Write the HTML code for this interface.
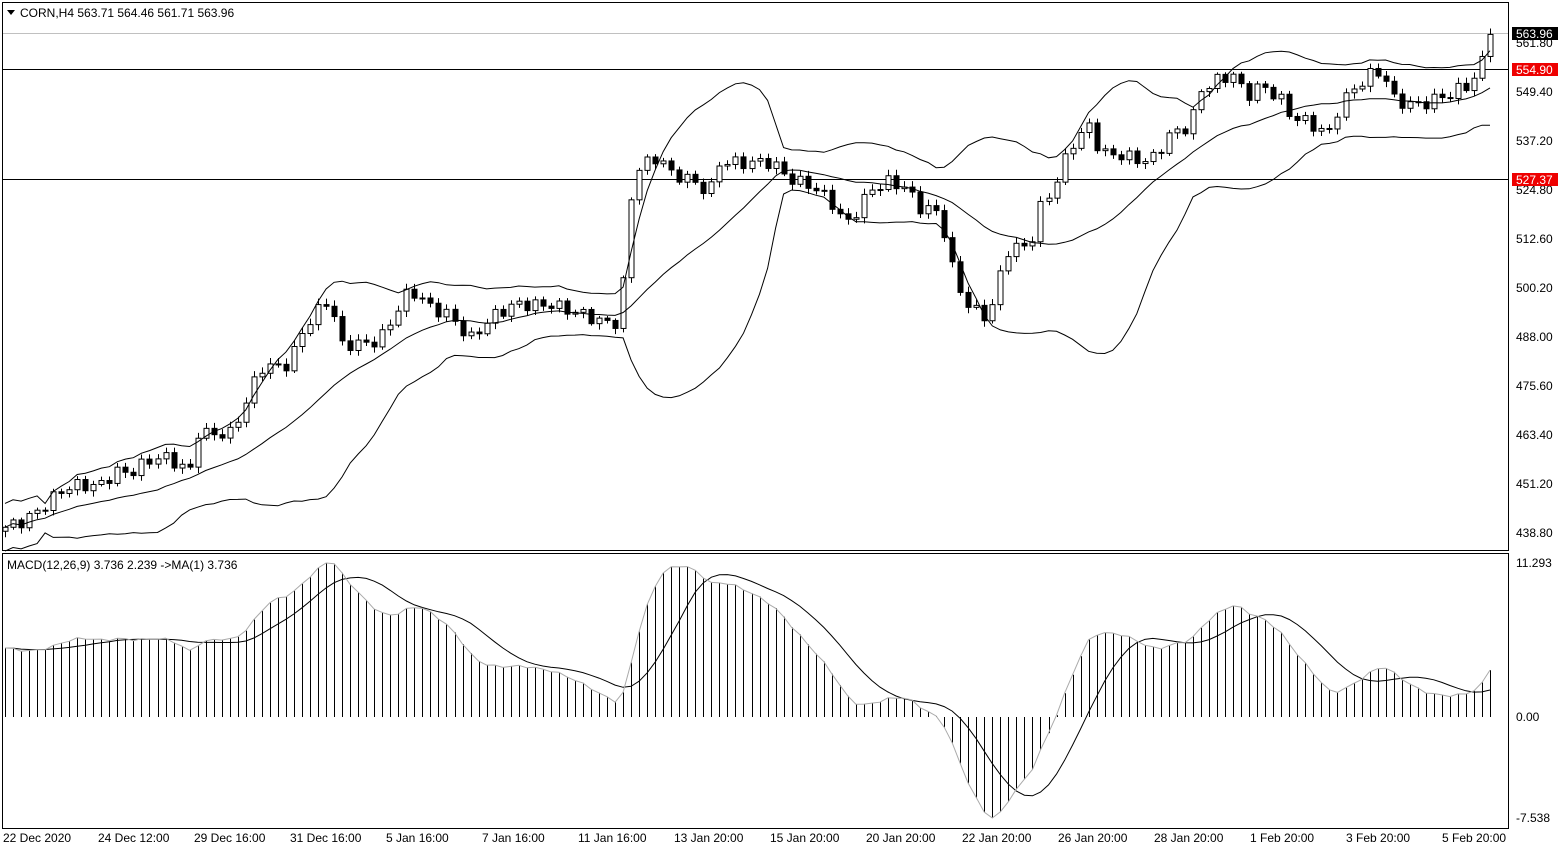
<!DOCTYPE html>
<html><head><meta charset="utf-8"><style>
html,body{margin:0;padding:0;background:#fff;}
body{width:1566px;height:850px;overflow:hidden;position:relative;font-family:"Liberation Sans",sans-serif;}
svg text{font-family:"Liberation Sans",sans-serif;font-size:12px;fill:#000;}
</style></head><body>
<svg id="s" width="1566" height="850" xmlns="http://www.w3.org/2000/svg">
<rect x="2.5" y="2.5" width="1506" height="548" fill="none" stroke="#000"/>
<rect x="2.5" y="553.5" width="1506" height="275" fill="none" stroke="#000"/>
<line x1="3" y1="33.5" x2="1508" y2="33.5" stroke="#c0c0c0"/>
<line x1="3" y1="69.5" x2="1508" y2="69.5" stroke="#000"/>
<line x1="3" y1="179.5" x2="1508" y2="179.5" stroke="#000"/>
<g id="g"></g>
<path d="M7 10 L15 10 L11 15 Z" fill="#000"/>
<text x="20" y="17">CORN,H4  563.71  564.46  561.71  563.96</text>
<text x="7" y="569">MACD(12,26,9) 3.736 2.239  -&gt;MA(1) 3.736</text>
<g>
<text x="1516" y="47">561.80</text>
<text x="1516" y="96">549.40</text>
<text x="1516" y="145">537.20</text>
<text x="1516" y="194">524.80</text>
<text x="1516" y="243">512.60</text>
<text x="1516" y="292">500.20</text>
<text x="1516" y="341">488.00</text>
<text x="1516" y="390">475.60</text>
<text x="1516" y="439">463.40</text>
<text x="1516" y="488">451.20</text>
<text x="1516" y="537">438.80</text>
<rect x="1512" y="27" width="46" height="13" fill="#000"/><text x="1516" y="38" style="fill:#fff">563.96</text>
<rect x="1512" y="63" width="46" height="13" fill="#e00"/><text x="1516" y="74" style="fill:#fff">554.90</text>
<rect x="1512" y="173" width="46" height="13" fill="#e00"/><text x="1516" y="184" style="fill:#fff">527.37</text>
<text x="1516" y="567">11.293</text>
<text x="1516" y="721">0.00</text>
<text x="1516" y="822">-7.538</text>
</g>
<g>
<text x="3" y="842">22 Dec 2020</text>
<text x="98" y="842">24 Dec 12:00</text>
<text x="194" y="842">29 Dec 16:00</text>
<text x="290" y="842">31 Dec 16:00</text>
<text x="386" y="842">5 Jan 16:00</text>
<text x="482" y="842">7 Jan 16:00</text>
<text x="578" y="842">11 Jan 16:00</text>
<text x="674" y="842">13 Jan 20:00</text>
<text x="770" y="842">15 Jan 20:00</text>
<text x="866" y="842">20 Jan 20:00</text>
<text x="962" y="842">22 Jan 20:00</text>
<text x="1058" y="842">26 Jan 20:00</text>
<text x="1154" y="842">28 Jan 20:00</text>
<text x="1250" y="842">1 Feb 20:00</text>
<text x="1346" y="842">3 Feb 20:00</text>
<text x="1442" y="842">5 Feb 20:00</text>
</g>
</svg>
<script>
var K=[[5,440],[40,445],[65,449],[100,451],[115,455],[130,454],[160,457],[190,455],[195,465],[230,463],[245,470],[260,480],[290,482],[300,489],[330,497],[340,485],[350,486],[380,488],[410,499],[430,495],[450,494],[470,488],[490,492],[520,496],[550,497],[580,493],[600,491],[620,492],[628,518],[635,531],[660,533],[670,528],[690,527],[710,525],[720,533],[750,531],[770,531],[790,528],[810,527],[830,522],[845,515],[860,520],[870,525],[890,528],[905,526],[920,520],[940,518],[955,502],[970,496],[985,494],[995,497],[1005,509],[1030,510],[1040,520],[1055,527],[1070,537],[1090,541],[1100,533],[1120,533],[1150,533],[1170,539],[1190,540],[1200,549],[1220,553],[1235,555],[1245,549],[1260,551],[1280,547],[1290,543],[1310,542],[1330,540],[1340,547],[1360,551],[1375,554],[1385,553],[1390,548],[1420,547],[1450,548],[1470,551],[1480,556],[1490,563.96]];
function lerp(x){for(var i=0;i<K.length-1;i++){if(x<=K[i+1][0]){var a=K[i],b=K[i+1];return a[1]+(b[1]-a[1])*(x-a[0])/(b[0]-a[0]);}}return K[K.length-1][1];}
function Y(p){return 43+(561.8-p)*3.976;}
var N=186,dx=(1490-5)/(N-1),C=[],X=[],h='';
var prev=439;
for(var i=0;i<N;i++){var x=5+i*dx;X.push(x);var c=lerp(x)+(i<N-1?1.6*Math.sin(i*2.3)+0.9*Math.sin(i*5.7):0);C.push(c);
var o=prev;prev=c;var hi=Math.max(o,c)+0.5+1.0*Math.abs(Math.sin(i*3.1)),lo=Math.min(o,c)-0.5-1.0*Math.abs(Math.cos(i*1.7));
var xr=Math.round(x)+0.5;
h+='<line x1="'+xr+'" x2="'+xr+'" y1="'+Y(hi)+'" y2="'+Y(lo)+'" stroke="#000"/>';
var t=Y(Math.max(o,c)),bt=Y(Math.min(o,c));var hh=Math.max(bt-t,1);
h+='<rect x="'+(xr-2.5)+'" y="'+t+'" width="5" height="'+hh+'" fill="'+(c>=o?'#fff':'#000')+'" stroke="#000"/>';}
var m=[],u=[],d=[];
for(var i=0;i<N;i++){var s=Math.max(0,i-19),n=i-s+1,sum=0;for(var j=s;j<=i;j++)sum+=C[j];var mu=sum/n,v=0;for(var j=s;j<=i;j++)v+=(C[j]-mu)*(C[j]-mu);var sd=Math.sqrt(v/n);if(n<6)sd=Math.max(sd,3);
m.push(X[i].toFixed(1)+','+Y(mu).toFixed(1));u.push(X[i].toFixed(1)+','+Y(mu+2*sd).toFixed(1));d.push(X[i].toFixed(1)+','+Y(mu-2*sd).toFixed(1));}
[m,u,d].forEach(function(a){h+='<polyline fill="none" stroke="#000" points="'+a.join(' ')+'"/>';});
var e12=C[0]-3,e26=C[0]-8,M=[],S=[];
for(var i=0;i<N;i++){e12+=(C[i]-e12)*2/13;e26+=(C[i]-e26)*2/27;M.push(e12-e26);var s=Math.max(0,i-8),sum=0;for(var j=s;j<=i;j++)sum+=M[j];S.push(sum/(i-s+1));}
var mx=Math.max.apply(null,M),mn=Math.min.apply(null,M);
function YM(v){return v>=0?717-v/mx*154:717+v/mn*101;}
var sp=[];
for(var i=0;i<N;i++){var xr=Math.round(X[i])+0.5;h+='<line x1="'+xr+'" x2="'+xr+'" y1="717" y2="'+YM(M[i]).toFixed(1)+'" stroke="#000"/>';sp.push(X[i].toFixed(1)+','+YM(S[i]).toFixed(1));}
h+='<polyline fill="none" stroke="#000" points="'+sp.join(' ')+'"/>';
var mp=[];for(var i=0;i<N;i++)mp.push(X[i].toFixed(1)+','+YM(M[i]).toFixed(1));
h+='<polyline fill="none" stroke="#aaa" points="'+mp.join(' ')+'"/>';
document.getElementById('g').innerHTML=h;
</script>
</body></html>
